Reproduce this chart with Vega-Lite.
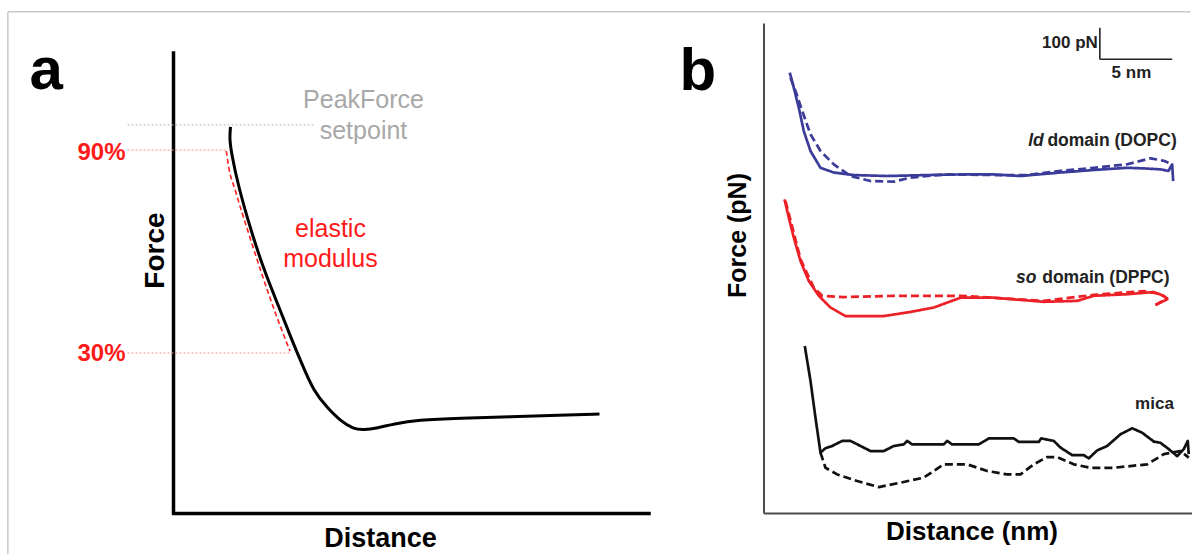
{
  "$schema": "https://vega.github.io/schema/vega-lite/v6.json",
  "padding": {"left": 6.5, "top": 10, "right": 0, "bottom": 0},
  "background": "white",
  "spacing": 115,
  "bounds": "flush",
  "config": {
    "font": "Liberation Sans",
    "view": {"stroke": null},
    "axis": {"ticks": false, "labels": false, "grid": false, "titleFontWeight": "bold", "titleColor": "#000000"}
  },
  "hconcat": [
    {
      "width": 475,
      "height": 490,
      "encoding": {
        "x": {"field": "x", "type": "quantitative", "scale": {"domain": [0, 100], "nice": false, "zero": false},
          "axis": {"title": "Distance", "domain": true, "domainColor": "#000000", "domainWidth": 3.5, "domainCap": "square", "titleFontSize": 27, "titleX": 206.5, "titleY": 33, "titleBaseline": "alphabetic", "titleAlign": "center"}},
        "y": {"field": "y", "type": "quantitative", "scale": {"domain": [0, 100], "nice": false, "zero": false},
          "axis": {"title": "Force", "domain": false, "titleFontSize": 28, "titleX": -10, "titleY": 227, "titleBaseline": "alphabetic", "titleAlign": "center", "titleAngle": -90}}
      },
      "layer": [
        {
          "data": {"values": [
            {"x": -34.88, "x2": 214.1, "y": 102.31, "y2": 102.31},
            {"x": -34.88, "x2": -34.88, "y": 102.31, "y2": -8.4}
          ]},
          "mark": {"type": "rule", "color": "#c8c8c8", "strokeWidth": 1.5},
          "encoding": {"x2": {"field": "x2"}, "y2": {"field": "y2"}}
        },
        {
          "data": {"values": [{"x": 0, "x2": 0, "y": 0, "y2": 93.88}]},
          "mark": {"type": "rule", "color": "#000000", "strokeWidth": 3.5, "strokeCap": "square"},
          "encoding": {"x2": {"field": "x2"}, "y2": {"field": "y2"}}
        },
        {
          "data": {"values": [{"x": -9.68, "x2": 29.47, "y": 79.2, "y2": 79.2}]},
          "mark": {"type": "rule", "color": "#b4b4b4", "strokeWidth": 1, "strokeDash": [2, 2]},
          "encoding": {"x2": {"field": "x2"}, "y2": {"field": "y2"}}
        },
        {
          "data": {"values": [
            {"x": -9.68, "x2": 11.37, "y": 74.08, "y2": 74.08},
            {"x": -9.68, "x2": 24.84, "y": 32.65, "y2": 32.65}
          ]},
          "mark": {"type": "rule", "color": "#f29090", "strokeWidth": 1, "strokeDash": [2, 2]},
          "encoding": {"x2": {"field": "x2"}, "y2": {"field": "y2"}}
        },
        {
          "data": {"values": [
            {"i": 1, "x": 11.12, "y": 73.88},
            {"i": 2, "x": 11.58, "y": 70.82},
            {"i": 3, "x": 13.05, "y": 65.71},
            {"i": 4, "x": 15.79, "y": 57.14},
            {"i": 5, "x": 18.74, "y": 48.37},
            {"i": 6, "x": 21.68, "y": 40.2},
            {"i": 7, "x": 24.53, "y": 33.06}
          ]},
          "mark": {"type": "line", "color": "#ff2020", "strokeWidth": 1.6, "strokeDash": [5, 3], "interpolate": "monotone"},
          "encoding": {"order": {"field": "i", "type": "quantitative"}}
        },
        {
          "data": {"values": [
            {"i": 1, "x": 12.0, "y": 78.78},
            {"i": 2, "x": 11.79, "y": 76.33},
            {"i": 3, "x": 12.21, "y": 73.47},
            {"i": 4, "x": 13.47, "y": 67.35},
            {"i": 5, "x": 16.32, "y": 57.55},
            {"i": 6, "x": 19.16, "y": 49.29},
            {"i": 7, "x": 22.02, "y": 42.45},
            {"i": 8, "x": 24.84, "y": 35.51},
            {"i": 9, "x": 26.95, "y": 30.61},
            {"i": 10, "x": 29.47, "y": 24.9},
            {"i": 11, "x": 32.42, "y": 21.43},
            {"i": 12, "x": 35.16, "y": 18.78},
            {"i": 13, "x": 37.89, "y": 17.14},
            {"i": 14, "x": 40.0, "y": 16.94},
            {"i": 15, "x": 42.95, "y": 17.35},
            {"i": 16, "x": 46.32, "y": 18.16},
            {"i": 17, "x": 51.37, "y": 18.98},
            {"i": 18, "x": 60.42, "y": 19.39},
            {"i": 19, "x": 70.95, "y": 19.59},
            {"i": 20, "x": 81.47, "y": 20.0},
            {"i": 21, "x": 89.68, "y": 20.2}
          ]},
          "mark": {"type": "line", "color": "#000000", "strokeWidth": 3, "interpolate": "basis"},
          "encoding": {"order": {"field": "i", "type": "quantitative"}}
        },
        {
          "data": {"values": [{"x": -30.3, "y": 86.6, "t": "a"}]},
          "mark": {"type": "text", "align": "left", "baseline": "alphabetic", "fontSize": 60, "fontWeight": "bold", "color": "#000000"},
          "encoding": {"text": {"field": "t"}}
        },
        {
          "data": {"values": [
            {"x": 40, "y": 82.65, "t": "PeakForce"},
            {"x": 40, "y": 76.3, "t": "setpoint"}
          ]},
          "mark": {"type": "text", "align": "center", "baseline": "alphabetic", "fontSize": 25, "color": "#a8a8a8"},
          "encoding": {"text": {"field": "t"}}
        },
        {
          "data": {"values": [
            {"x": -10.1, "y": 72.1, "t": "90%"},
            {"x": -10.1, "y": 31.0, "t": "30%"}
          ]},
          "mark": {"type": "text", "align": "right", "baseline": "alphabetic", "fontSize": 24, "fontWeight": "bold", "color": "#ff1a1a"},
          "encoding": {"text": {"field": "t"}}
        },
        {
          "data": {"values": [
            {"x": 33.05, "y": 56.33, "t": "elastic"},
            {"x": 33.05, "y": 50.2, "t": "modulus"}
          ]},
          "mark": {"type": "text", "align": "center", "baseline": "alphabetic", "fontSize": 25, "color": "#ff1a1a"},
          "encoding": {"text": {"field": "t"}}
        }
      ]
    },
    {
      "width": 428,
      "height": 490,
      "encoding": {
        "x": {"field": "x", "type": "quantitative", "scale": {"domain": [0, 29.56], "nice": false, "zero": false},
          "axis": {"title": "Distance (nm)", "domain": true, "domainColor": "#4d4d4d", "domainWidth": 2, "titleFontSize": 26, "titleX": 208, "titleY": 26, "titleBaseline": "alphabetic", "titleAlign": "center"}},
        "y": {"field": "y", "type": "quantitative", "scale": {"domain": [0, 1550], "nice": false, "zero": false},
          "axis": {"title": "Force (pN)", "domain": true, "domainColor": "#4d4d4d", "domainWidth": 2, "titleFontSize": 25, "titleX": -18, "titleY": 212, "titleBaseline": "alphabetic", "titleAlign": "center", "titleAngle": -90}}
      },
      "layer": [
        {
          "data": {"values": [
            {"sample": "DOPC", "curve": "approach", "i": 1, "x": 1.816, "y": 1393},
            {"sample": "DOPC", "curve": "approach", "i": 2, "x": 2.093, "y": 1345},
            {"sample": "DOPC", "curve": "approach", "i": 3, "x": 2.438, "y": 1282},
            {"sample": "DOPC", "curve": "approach", "i": 4, "x": 2.783, "y": 1208},
            {"sample": "DOPC", "curve": "approach", "i": 5, "x": 3.246, "y": 1145},
            {"sample": "DOPC", "curve": "approach", "i": 6, "x": 3.936, "y": 1092},
            {"sample": "DOPC", "curve": "approach", "i": 7, "x": 4.855, "y": 1077},
            {"sample": "DOPC", "curve": "approach", "i": 8, "x": 6.236, "y": 1069},
            {"sample": "DOPC", "curve": "approach", "i": 9, "x": 8.543, "y": 1066},
            {"sample": "DOPC", "curve": "approach", "i": 10, "x": 11.305, "y": 1069},
            {"sample": "DOPC", "curve": "approach", "i": 11, "x": 13.605, "y": 1071},
            {"sample": "DOPC", "curve": "approach", "i": 12, "x": 15.905, "y": 1071},
            {"sample": "DOPC", "curve": "approach", "i": 13, "x": 17.749, "y": 1066},
            {"sample": "DOPC", "curve": "approach", "i": 14, "x": 20.511, "y": 1077},
            {"sample": "DOPC", "curve": "approach", "i": 15, "x": 22.811, "y": 1085},
            {"sample": "DOPC", "curve": "approach", "i": 16, "x": 25.117, "y": 1092},
            {"sample": "DOPC", "curve": "approach", "i": 17, "x": 26.264, "y": 1090},
            {"sample": "DOPC", "curve": "approach", "i": 18, "x": 27.417, "y": 1087},
            {"sample": "DOPC", "curve": "approach", "i": 19, "x": 27.97, "y": 1082},
            {"sample": "DOPC", "curve": "approach", "i": 20, "x": 28.225, "y": 1103},
            {"sample": "DOPC", "curve": "approach", "i": 21, "x": 28.294, "y": 1050},

            {"sample": "DOPC", "curve": "retract", "i": 1, "x": 1.865, "y": 1377},
            {"sample": "DOPC", "curve": "retract", "i": 2, "x": 2.21, "y": 1335},
            {"sample": "DOPC", "curve": "retract", "i": 3, "x": 2.673, "y": 1272},
            {"sample": "DOPC", "curve": "retract", "i": 4, "x": 3.246, "y": 1198},
            {"sample": "DOPC", "curve": "retract", "i": 5, "x": 3.936, "y": 1145},
            {"sample": "DOPC", "curve": "retract", "i": 6, "x": 4.855, "y": 1103},
            {"sample": "DOPC", "curve": "retract", "i": 7, "x": 6.008, "y": 1066},
            {"sample": "DOPC", "curve": "retract", "i": 8, "x": 7.389, "y": 1050},
            {"sample": "DOPC", "curve": "retract", "i": 9, "x": 8.999, "y": 1048},
            {"sample": "DOPC", "curve": "retract", "i": 10, "x": 10.152, "y": 1061},
            {"sample": "DOPC", "curve": "retract", "i": 11, "x": 12.452, "y": 1071},
            {"sample": "DOPC", "curve": "retract", "i": 12, "x": 15.905, "y": 1069},
            {"sample": "DOPC", "curve": "retract", "i": 13, "x": 18.211, "y": 1069},
            {"sample": "DOPC", "curve": "retract", "i": 14, "x": 20.511, "y": 1082},
            {"sample": "DOPC", "curve": "retract", "i": 15, "x": 22.811, "y": 1092},
            {"sample": "DOPC", "curve": "retract", "i": 16, "x": 25.117, "y": 1103},
            {"sample": "DOPC", "curve": "retract", "i": 17, "x": 26.727, "y": 1122},
            {"sample": "DOPC", "curve": "retract", "i": 18, "x": 27.645, "y": 1114},
            {"sample": "DOPC", "curve": "retract", "i": 19, "x": 28.225, "y": 1103},

            {"sample": "DPPC", "curve": "approach", "i": 1, "x": 1.45, "y": 992},
            {"sample": "DPPC", "curve": "approach", "i": 2, "x": 1.747, "y": 934},
            {"sample": "DPPC", "curve": "approach", "i": 3, "x": 2.093, "y": 871},
            {"sample": "DPPC", "curve": "approach", "i": 4, "x": 2.555, "y": 797},
            {"sample": "DPPC", "curve": "approach", "i": 5, "x": 3.128, "y": 734},
            {"sample": "DPPC", "curve": "approach", "i": 6, "x": 3.819, "y": 687},
            {"sample": "DPPC", "curve": "approach", "i": 7, "x": 4.627, "y": 650},
            {"sample": "DPPC", "curve": "approach", "i": 8, "x": 5.663, "y": 623},
            {"sample": "DPPC", "curve": "approach", "i": 9, "x": 8.308, "y": 623},
            {"sample": "DPPC", "curve": "approach", "i": 10, "x": 10.152, "y": 636},
            {"sample": "DPPC", "curve": "approach", "i": 11, "x": 11.761, "y": 650},
            {"sample": "DPPC", "curve": "approach", "i": 12, "x": 13.605, "y": 681},
            {"sample": "DPPC", "curve": "approach", "i": 13, "x": 15.905, "y": 681},
            {"sample": "DPPC", "curve": "approach", "i": 14, "x": 19.358, "y": 668},
            {"sample": "DPPC", "curve": "approach", "i": 15, "x": 21.664, "y": 671},
            {"sample": "DPPC", "curve": "approach", "i": 16, "x": 22.811, "y": 687},
            {"sample": "DPPC", "curve": "approach", "i": 17, "x": 25.117, "y": 692},
            {"sample": "DPPC", "curve": "approach", "i": 18, "x": 26.955, "y": 699},
            {"sample": "DPPC", "curve": "approach", "i": 19, "x": 27.645, "y": 687},
            {"sample": "DPPC", "curve": "approach", "i": 20, "x": 27.88, "y": 676},
            {"sample": "DPPC", "curve": "approach", "i": 21, "x": 27.072, "y": 658},

            {"sample": "DPPC", "curve": "retract", "i": 1, "x": 1.519, "y": 987},
            {"sample": "DPPC", "curve": "retract", "i": 2, "x": 2.093, "y": 886},
            {"sample": "DPPC", "curve": "retract", "i": 3, "x": 2.555, "y": 803},
            {"sample": "DPPC", "curve": "retract", "i": 4, "x": 3.474, "y": 713},
            {"sample": "DPPC", "curve": "retract", "i": 5, "x": 4.054, "y": 687},
            {"sample": "DPPC", "curve": "retract", "i": 6, "x": 5.546, "y": 683},
            {"sample": "DPPC", "curve": "retract", "i": 7, "x": 8.999, "y": 687},
            {"sample": "DPPC", "curve": "retract", "i": 8, "x": 13.605, "y": 687},
            {"sample": "DPPC", "curve": "retract", "i": 9, "x": 15.905, "y": 681},
            {"sample": "DPPC", "curve": "retract", "i": 10, "x": 19.358, "y": 671},
            {"sample": "DPPC", "curve": "retract", "i": 11, "x": 22.811, "y": 690},
            {"sample": "DPPC", "curve": "retract", "i": 12, "x": 26.264, "y": 702},
            {"sample": "DPPC", "curve": "retract", "i": 13, "x": 27.417, "y": 692},
            {"sample": "DPPC", "curve": "retract", "i": 14, "x": 27.88, "y": 679},
            {"sample": "DPPC", "curve": "retract", "i": 15, "x": 27.072, "y": 658},

            {"sample": "mica", "curve": "approach", "i": 1, "x": 2.852, "y": 528},
            {"sample": "mica", "curve": "approach", "i": 2, "x": 3.246, "y": 418},
            {"sample": "mica", "curve": "approach", "i": 3, "x": 3.591, "y": 301},
            {"sample": "mica", "curve": "approach", "i": 4, "x": 3.936, "y": 191},
            {"sample": "mica", "curve": "approach", "i": 5, "x": 4.282, "y": 205},
            {"sample": "mica", "curve": "approach", "i": 6, "x": 4.744, "y": 212},
            {"sample": "mica", "curve": "approach", "i": 7, "x": 5.435, "y": 228},
            {"sample": "mica", "curve": "approach", "i": 8, "x": 6.008, "y": 228},
            {"sample": "mica", "curve": "approach", "i": 9, "x": 6.699, "y": 212},
            {"sample": "mica", "curve": "approach", "i": 10, "x": 7.389, "y": 196},
            {"sample": "mica", "curve": "approach", "i": 11, "x": 8.308, "y": 196},
            {"sample": "mica", "curve": "approach", "i": 12, "x": 8.999, "y": 212},
            {"sample": "mica", "curve": "approach", "i": 13, "x": 9.689, "y": 217},
            {"sample": "mica", "curve": "approach", "i": 14, "x": 9.924, "y": 228},
            {"sample": "mica", "curve": "approach", "i": 15, "x": 10.27, "y": 217},
            {"sample": "mica", "curve": "approach", "i": 16, "x": 12.452, "y": 217},
            {"sample": "mica", "curve": "approach", "i": 17, "x": 12.687, "y": 228},
            {"sample": "mica", "curve": "approach", "i": 18, "x": 13.032, "y": 217},
            {"sample": "mica", "curve": "approach", "i": 19, "x": 14.869, "y": 217},
            {"sample": "mica", "curve": "approach", "i": 20, "x": 15.56, "y": 236},
            {"sample": "mica", "curve": "approach", "i": 21, "x": 17.286, "y": 236},
            {"sample": "mica", "curve": "approach", "i": 22, "x": 17.631, "y": 225},
            {"sample": "mica", "curve": "approach", "i": 23, "x": 19.013, "y": 225},
            {"sample": "mica", "curve": "approach", "i": 24, "x": 19.178, "y": 236},
            {"sample": "mica", "curve": "approach", "i": 25, "x": 20.048, "y": 228},
            {"sample": "mica", "curve": "approach", "i": 26, "x": 20.511, "y": 207},
            {"sample": "mica", "curve": "approach", "i": 27, "x": 21.319, "y": 183},
            {"sample": "mica", "curve": "approach", "i": 28, "x": 22.12, "y": 183},
            {"sample": "mica", "curve": "approach", "i": 29, "x": 22.466, "y": 173},
            {"sample": "mica", "curve": "approach", "i": 30, "x": 23.046, "y": 198},
            {"sample": "mica", "curve": "approach", "i": 31, "x": 23.737, "y": 212},
            {"sample": "mica", "curve": "approach", "i": 32, "x": 24.655, "y": 249},
            {"sample": "mica", "curve": "approach", "i": 33, "x": 25.463, "y": 268},
            {"sample": "mica", "curve": "approach", "i": 34, "x": 26.153, "y": 254},
            {"sample": "mica", "curve": "approach", "i": 35, "x": 26.955, "y": 226},
            {"sample": "mica", "curve": "approach", "i": 36, "x": 27.417, "y": 222},
            {"sample": "mica", "curve": "approach", "i": 37, "x": 27.99, "y": 202},
            {"sample": "mica", "curve": "approach", "i": 38, "x": 28.57, "y": 180},
            {"sample": "mica", "curve": "approach", "i": 39, "x": 29.026, "y": 202},
            {"sample": "mica", "curve": "approach", "i": 40, "x": 29.302, "y": 228},
            {"sample": "mica", "curve": "approach", "i": 41, "x": 29.371, "y": 186},

            {"sample": "mica", "curve": "retract", "i": 1, "x": 3.936, "y": 191},
            {"sample": "mica", "curve": "retract", "i": 2, "x": 4.282, "y": 143},
            {"sample": "mica", "curve": "retract", "i": 3, "x": 5.09, "y": 122},
            {"sample": "mica", "curve": "retract", "i": 4, "x": 6.471, "y": 101},
            {"sample": "mica", "curve": "retract", "i": 5, "x": 7.963, "y": 82},
            {"sample": "mica", "curve": "retract", "i": 6, "x": 9.461, "y": 96},
            {"sample": "mica", "curve": "retract", "i": 7, "x": 11.07, "y": 112},
            {"sample": "mica", "curve": "retract", "i": 8, "x": 12.452, "y": 154},
            {"sample": "mica", "curve": "retract", "i": 9, "x": 14.068, "y": 154},
            {"sample": "mica", "curve": "retract", "i": 10, "x": 15.449, "y": 133},
            {"sample": "mica", "curve": "retract", "i": 11, "x": 16.83, "y": 122},
            {"sample": "mica", "curve": "retract", "i": 12, "x": 17.749, "y": 122},
            {"sample": "mica", "curve": "retract", "i": 13, "x": 18.667, "y": 154},
            {"sample": "mica", "curve": "retract", "i": 14, "x": 19.592, "y": 177},
            {"sample": "mica", "curve": "retract", "i": 15, "x": 20.283, "y": 177},
            {"sample": "mica", "curve": "retract", "i": 16, "x": 21.43, "y": 154},
            {"sample": "mica", "curve": "retract", "i": 17, "x": 22.583, "y": 143},
            {"sample": "mica", "curve": "retract", "i": 18, "x": 24.192, "y": 143},
            {"sample": "mica", "curve": "retract", "i": 19, "x": 26.499, "y": 154},
            {"sample": "mica", "curve": "retract", "i": 20, "x": 27.645, "y": 186},
            {"sample": "mica", "curve": "retract", "i": 21, "x": 28.798, "y": 196},
            {"sample": "mica", "curve": "retract", "i": 22, "x": 29.371, "y": 175}
          ]},
          "mark": {"type": "line", "strokeWidth": 2.7, "strokeJoin": "round"},
          "encoding": {
            "color": {"field": "sample", "type": "nominal", "scale": {"domain": ["DOPC", "DPPC", "mica"], "range": ["#3b3c99", "#ec2027", "#111111"]}, "legend": null},
            "strokeDash": {"field": "curve", "type": "nominal", "scale": {"domain": ["approach", "retract"], "range": [[1, 0], [8, 4]]}, "legend": null},
            "order": {"field": "i", "type": "quantitative"}
          }
        },
        {
          "data": {"values": [
            {"x": 23.23, "x2": 23.23, "y": 1435.3, "y2": 1535.3},
            {"x": 23.23, "x2": 28.23, "y": 1435.3, "y2": 1435.3}
          ]},
          "mark": {"type": "rule", "color": "#222222", "strokeWidth": 1.6},
          "encoding": {"x2": {"field": "x2"}, "y2": {"field": "y2"}}
        },
        {
          "data": {"values": [{"x": -5.8, "y": 1338, "t": "b"}]},
          "mark": {"type": "text", "align": "left", "baseline": "alphabetic", "fontSize": 60, "fontWeight": "bold", "color": "#000000"},
          "encoding": {"text": {"field": "t"}}
        },
        {
          "data": {"values": [
            {"x": 19.36, "y": 1161, "t": "ld"},
            {"x": 18.85, "y": 728.6, "t": "so"}
          ]},
          "mark": {"type": "text", "align": "right", "baseline": "alphabetic", "fontSize": 17.5, "fontWeight": "bold", "fontStyle": "italic", "color": "#222222"},
          "encoding": {"text": {"field": "t"}}
        },
        {
          "data": {"values": [
            {"x": 19.61, "y": 1161, "t": "domain (DOPC)"},
            {"x": 19.25, "y": 728.6, "t": "domain (DPPC)"}
          ]},
          "mark": {"type": "text", "align": "left", "baseline": "alphabetic", "fontSize": 17.5, "fontWeight": "bold", "color": "#222222"},
          "encoding": {"text": {"field": "t"}}
        },
        {
          "data": {"values": [
            {"x": 28.34, "y": 328, "t": "mica"},
            {"x": 23.09, "y": 1472, "t": "100 pN"}
          ]},
          "mark": {"type": "text", "align": "right", "baseline": "alphabetic", "fontSize": 17, "fontWeight": "bold", "color": "#222222"},
          "encoding": {"text": {"field": "t"}}
        },
        {
          "data": {"values": [{"x": 25.41, "y": 1377, "t": "5 nm"}]},
          "mark": {"type": "text", "align": "center", "baseline": "alphabetic", "fontSize": 17, "fontWeight": "bold", "color": "#222222"},
          "encoding": {"text": {"field": "t"}}
        }
      ]
    }
  ]
}
